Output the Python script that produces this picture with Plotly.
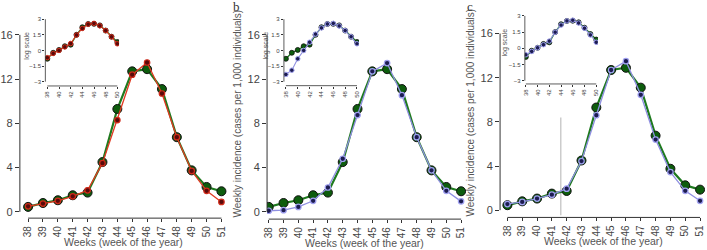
import numpy as np
import plotly.graph_objects as go

weeks = list(range(38, 52))
observed = [0.45, 0.8, 1.05, 1.5, 1.74, 4.5, 9.3, 12.7, 12.9, 11.1, 6.75, 3.75, 2.25, 1.86]
model_a = [0.5, 0.75, 1.0, 1.4, 1.95, 4.4, 8.3, 12.4, 13.5, 10.7, 6.75, 3.7, 1.9, 0.9]
model_b = [0.1, 0.15, 0.45, 1.0, 2.2, 4.8, 8.75, 12.7, 13.45, 10.55, 6.75, 3.75, 1.9, 0.95]
model_c = [0.55, 0.75, 1.05, 1.4, 1.95, 4.45, 8.6, 12.7, 13.5, 10.45, 6.4, 3.45, 1.75, 0.85]
main_yticks = [0, 4, 8, 12, 16]
inset_yticks = [-3, -1.5, 0, 1.5, 3]
inset_ytext = ["−3", "−1.5", "0", "1.5", "3"]
inset_xticks = [38, 40, 42, 44, 46, 48, 50]
inset_weeks = weeks[:13]

W, H = 707, 250
TXT = "#444444"
FONT = "Liberation Sans, Arial, sans-serif"

GREEN_LINE = "#1f7a1f"
GREEN_FILL = "#0d5c0d"
RED_LINE = "#e03a22"
RED_FILL = "#5a0a0a"
BLUE_LINE = "#8f8fe0"
BLUE_FILL = "#1c1c50"


def xr(v1, p1, v2, p2, d0, d1):
    s = (p2 - p1) / (v2 - v1)
    return [v1 + (d0 - p1) / s, v1 + (d1 - p1) / s], [d0 / W, d1 / W]


def yr(v1, p1, v2, p2, top, bot):
    s = (p2 - p1) / (v2 - v1)
    return [v1 + (bot - p1) / s, v1 + (top - p1) / s], [1 - bot / H, 1 - top / H]


panels = [
    dict(mx=xr(38, 23.3, 51, 218.3, 15, 224), my=yr(0, 211.7, 16, 34, 28, 218),
         ix=xr(38, 42.7, 50, 113.3, 40.7, 115), iy=yr(3, 18.3, -3, 81, 16, 85.3),
         model=model_a, line=RED_LINE, fill=RED_FILL, ring="#d02a1a",
         logx=22, logy=45, xtitle=(120, 242), ytitle=None, label=None),
    dict(mx=xr(38, 266, 51, 460, 264.3, 465), my=yr(0, 211.7, 16, 34, 28, 219),
         ix=xr(38, 283.3, 50, 355, 281.3, 357), iy=yr(3, 18.3, -3, 81, 16, 85),
         model=model_b, line=BLUE_LINE, fill=BLUE_FILL, ring="#a0a0f0",
         logx=263, logy=45, xtitle=(363, 243), ytitle=(235, 113), label=("b", 233, 6)),
    dict(mx=xr(38, 506.7, 51, 701, 499.3, 706), my=yr(0, 210, 16, 32.7, 26, 217.3),
         ix=xr(38, 525.3, 50, 596.3, 524.3, 598), iy=yr(3, 15, -3, 80, 13, 83.3),
         model=model_c, line=BLUE_LINE, fill=BLUE_FILL, ring="#a0a0f0",
         logx=504, logy=42, xtitle=(604, 241), ytitle=(470, 112), label=("c", 469, 6)),
]

fig = go.Figure()
layout = dict(width=W, height=H, margin=dict(l=0, r=0, t=0, b=0),
              paper_bgcolor="white", plot_bgcolor="rgba(0,0,0,0)",
              showlegend=False, font=dict(family=FONT, color=TXT))
shapes = []
annotations = []

for i, p in enumerate(panels):
    mi = 2 * i + 1
    ii = 2 * i + 2
    mxn = "x" if mi == 1 else f"x{mi}"
    myn = "y" if mi == 1 else f"y{mi}"
    ixn, iyn = f"x{ii}", f"y{ii}"
    fig.add_trace(go.Scatter(x=weeks, y=observed, mode="lines+markers", xaxis=mxn, yaxis=myn,
                             line=dict(color=GREEN_LINE, width=2.2),
                             marker=dict(size=9, color=GREEN_FILL, line=dict(color="#111111", width=1))))
    fig.add_trace(go.Scatter(x=weeks, y=p["model"], mode="lines+markers", xaxis=mxn, yaxis=myn,
                             line=dict(color=p["line"], width=1.3),
                             marker=dict(size=5.5, color=p["fill"], line=dict(color=p["ring"], width=1.2))))
    fig.add_trace(go.Scatter(x=inset_weeks, y=np.log(observed[:13]), mode="lines+markers",
                             xaxis=ixn, yaxis=iyn,
                             line=dict(color=GREEN_LINE, width=1.3),
                             marker=dict(size=5, color=GREEN_FILL, line=dict(color="#111111", width=0.8))))
    fig.add_trace(go.Scatter(x=inset_weeks, y=np.log(p["model"][:13]), mode="lines+markers",
                             xaxis=ixn, yaxis=iyn,
                             line=dict(color=p["line"], width=1.1),
                             marker=dict(size=4.5, color=p["fill"], line=dict(color=p["ring"], width=1))))

    mxkey = "xaxis" if mi == 1 else f"xaxis{mi}"
    mykey = "yaxis" if mi == 1 else f"yaxis{mi}"
    layout[mxkey] = dict(domain=p["mx"][1], range=p["mx"][0], anchor=myn, tickvals=weeks,
                         tickangle=-90, ticks="outside", ticklen=3, tickcolor="#333333",
                         showgrid=False, zeroline=False, showline=False,
                         tickfont=dict(size=10, color=TXT))
    layout[mykey] = dict(domain=p["my"][1], range=p["my"][0], anchor=mxn, tickvals=main_yticks,
                         ticks="outside", ticklen=4, tickcolor="#333333",
                         showgrid=False, zeroline=False, showline=False,
                         tickfont=dict(size=11, color=TXT))
    layout[f"xaxis{ii}"] = dict(domain=p["ix"][1], range=p["ix"][0], anchor=iyn, tickvals=inset_xticks,
                                tickangle=-90, ticks="outside", ticklen=2, tickcolor="#333333",
                                showgrid=False, zeroline=False, showline=False,
                                tickfont=dict(size=6, color=TXT))
    layout[f"yaxis{ii}"] = dict(domain=p["iy"][1], range=p["iy"][0], anchor=ixn, tickvals=inset_yticks,
                                ticktext=inset_ytext,
                                ticks="outside", ticklen=2, tickcolor="#333333",
                                showgrid=False, zeroline=False, showline=False,
                                tickfont=dict(size=6, color=TXT))
    shapes.append(dict(type="line", xref=mxn, yref=f"{myn} domain", x0=38, x1=51, y0=0, y1=0,
                       line=dict(color="#333333", width=1)))
    shapes.append(dict(type="line", xref=f"{mxn} domain", yref=myn, x0=0, x1=0, y0=0, y1=16,
                       line=dict(color="#333333", width=1)))
    shapes.append(dict(type="line", xref=ixn, yref=f"{iyn} domain", x0=38, x1=50, y0=0, y1=0,
                       line=dict(color="#333333", width=0.8)))
    shapes.append(dict(type="line", xref=f"{ixn} domain", yref=iyn, x0=0, x1=0, y0=-3, y1=3,
                       line=dict(color="#333333", width=0.8)))
    annotations.append(dict(text="log scale", textangle=-90, x=p["logx"] / W, y=1 - p["logy"] / H,
                            xref="paper", yref="paper", showarrow=False,
                            xanchor="center", yanchor="middle",
                            font=dict(size=7, color="#555555")))
    annotations.append(dict(text="Weeks (week of the year)", x=p["xtitle"][0] / W, y=1 - p["xtitle"][1] / H,
                            xref="paper", yref="paper", showarrow=False,
                            xanchor="center", yanchor="middle",
                            font=dict(size=10.5, color="#555555")))
    if p["ytitle"]:
        annotations.append(dict(text="Weekly incidence (cases per 1,000 individuals)", textangle=-90,
                                x=p["ytitle"][0] / W, y=1 - p["ytitle"][1] / H,
                                xref="paper", yref="paper", showarrow=False,
                                xanchor="center", yanchor="middle",
                                font=dict(size=10, color="#555555")))
    if p["label"]:
        annotations.append(dict(text=p["label"][0], x=p["label"][1] / W, y=1 - p["label"][2] / H,
                                xref="paper", yref="paper", showarrow=False,
                                xanchor="center", yanchor="middle",
                                font=dict(size=13, color="#333333", family="Liberation Serif, serif")))

shapes.append(dict(type="line", xref="x5", yref="y5", x0=41.6, x1=41.6, y0=-0.45, y1=8.4,
                   line=dict(color="#cccccc", width=1.5), layer="below"))

layout["shapes"] = shapes
layout["annotations"] = annotations
fig.update_layout(**layout)
fig.write_html("out.html")
